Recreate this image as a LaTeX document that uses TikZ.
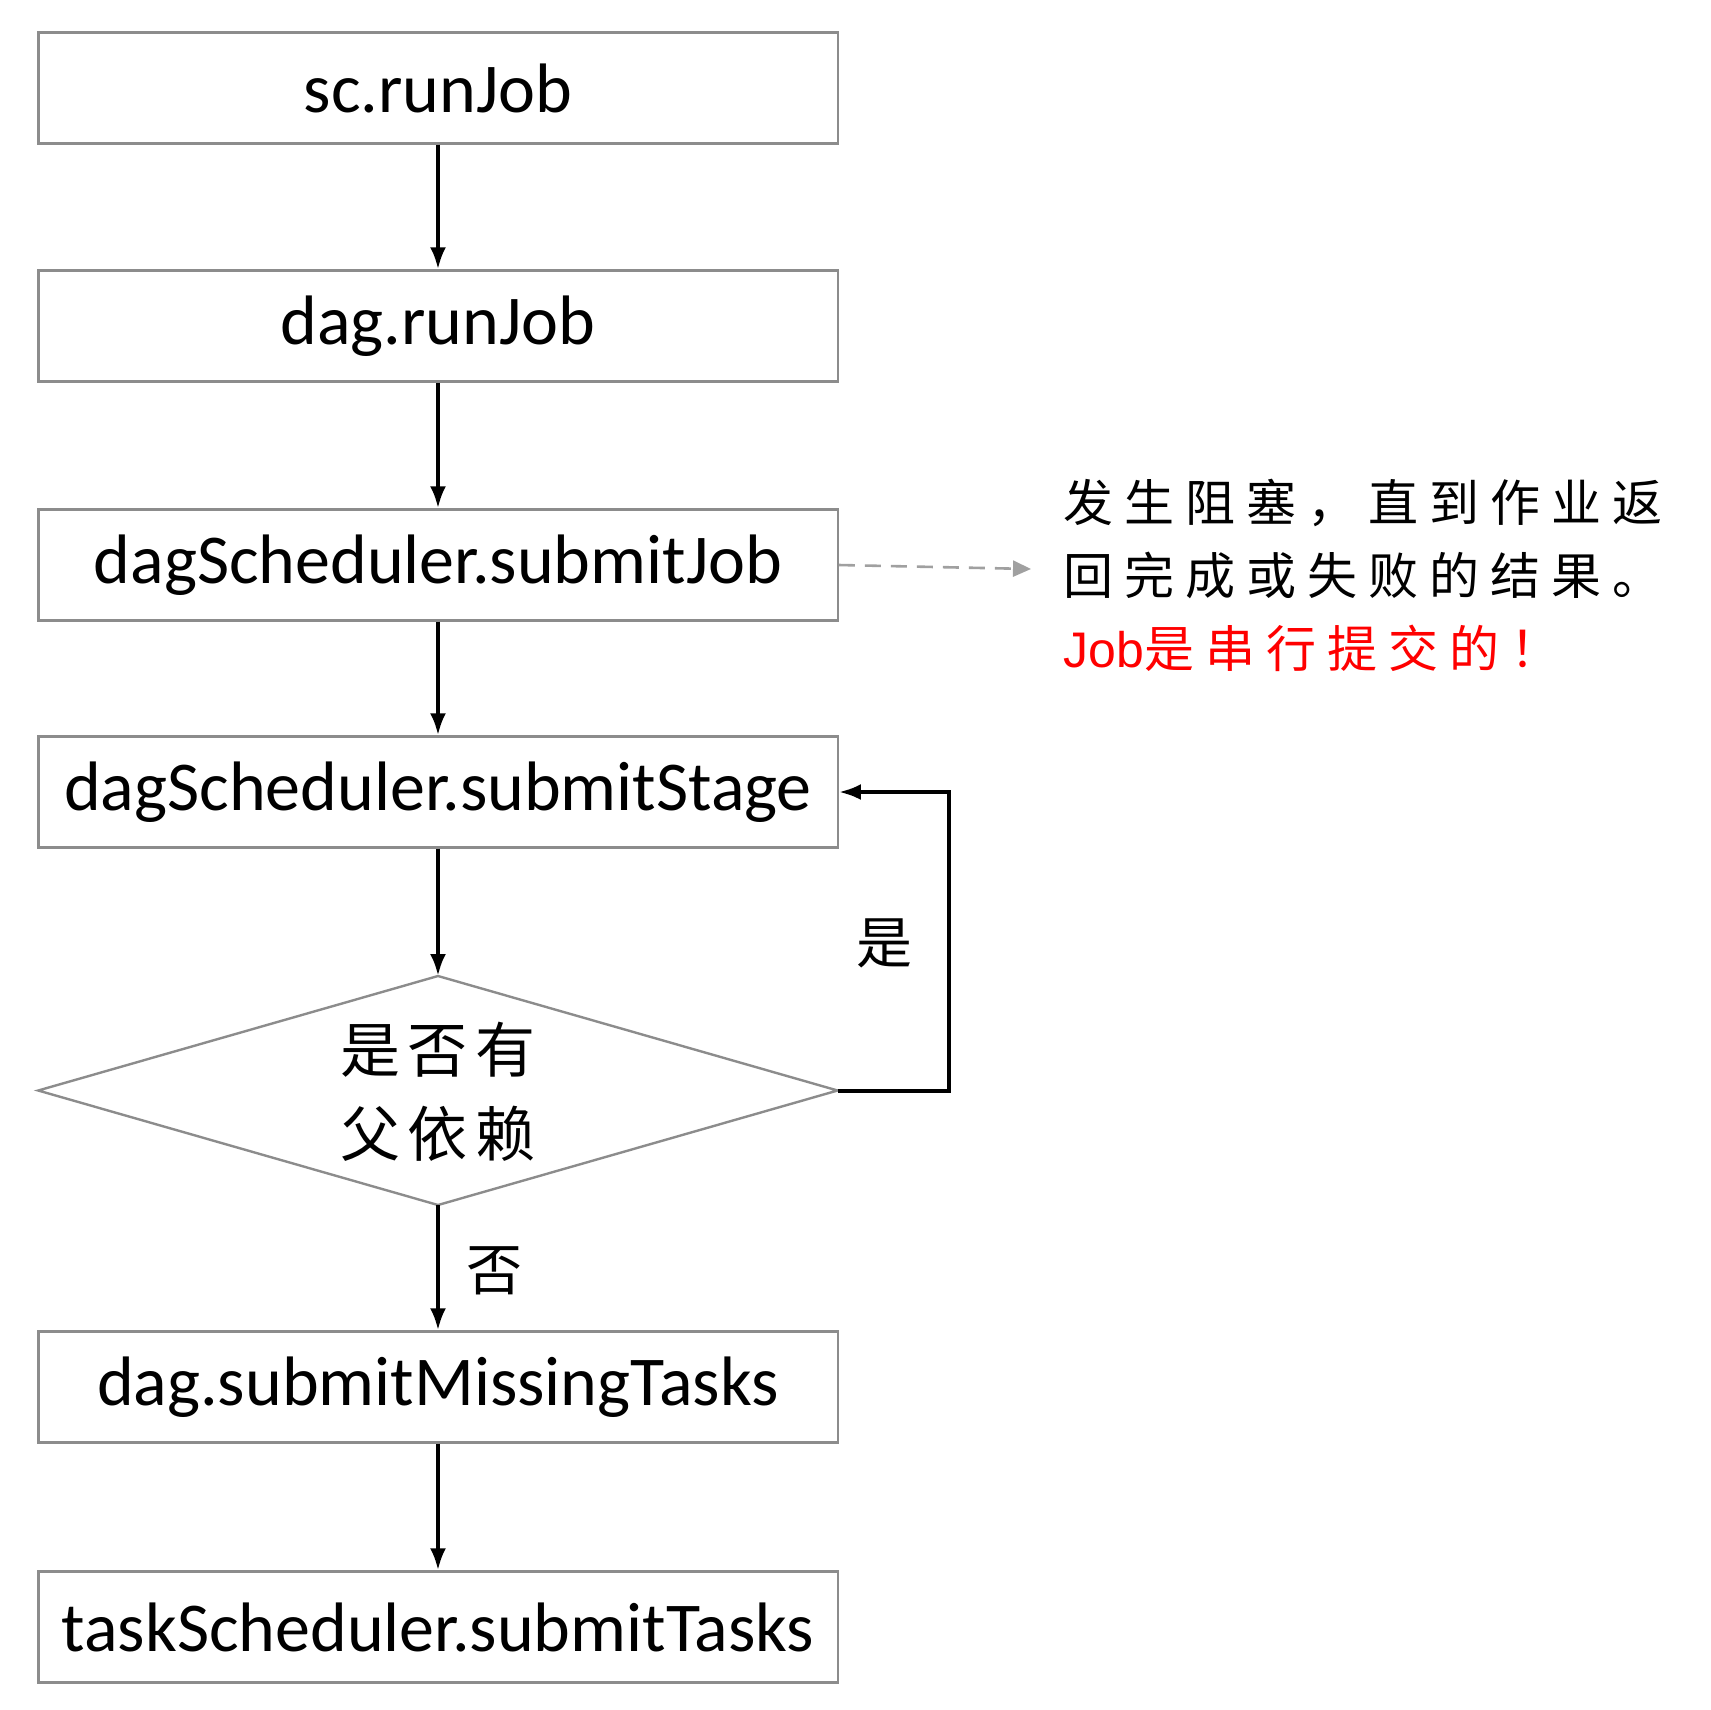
\documentclass[tikz,border=0pt]{standalone}
\usepackage{fontspec}
\setmainfont{Carlito}
\newfontfamily\cjk{Noto Sans CJK SC}
\newfontfamily\cjkls[LetterSpace=22]{Noto Sans CJK SC}
\newfontfamily\cjkdia[LetterSpace=12]{Noto Sans CJK SC}
\newfontfamily\latinnote{Liberation Sans}
\usetikzlibrary{shapes.geometric,arrows.meta}
\definecolor{boxgray}{HTML}{8C8C8C}
\definecolor{dashgray}{HTML}{A0A0A0}
\tikzset{
  box/.style={draw=boxgray, line width=1.2pt, minimum width=399.7pt, minimum height=55.5pt, inner sep=0pt, font=\fontsize{35}{42}\selectfont},
  dialine/.style={draw=boxgray, line width=1.2pt},
  diatext/.style={align=center, inner sep=0pt, font=\cjkdia\fontsize{30}{42}\selectfont},
  flow/.style={-{Latex[length=11pt,width=8pt]}, line width=2pt, black},
  lbl/.style={font=\cjk\fontsize{28}{34}\selectfont, inner sep=0pt},
}
\begin{document}
\begin{tikzpicture}[x=0.5pt,y=-0.5pt]
\useasboundingbox (0,0) rectangle (1710,1710);
\node[box] (b1) at (438,88) {sc.runJob};
\node[box] (b2) at (438,326) {dag.runJob};
\node[box] (b3) at (438,565) {dagScheduler.submitJob};
\node[box] (b4) at (438,792) {dagScheduler.submitStage};
\coordinate (dt) at (438,976);
\coordinate (db) at (438,1205);
\coordinate (dl) at (38.2,1090.5);
\coordinate (dr) at (837.6,1090.5);
\draw[dialine] (dt) -- (dr) -- (db) -- (dl) -- cycle;
\node[diatext] (d) at (438,1092) {是否有\\父依赖};
\node[box] (b5) at (438,1387) {dag.submitMissingTasks};
\node[box] (b6) at (438,1627) {taskScheduler.submitTasks};
\draw[flow] (b1) -- (b2);
\draw[flow] (b2) -- (b3);
\draw[flow] (b3) -- (b4);
\draw[flow] (b4) -- (dt);
\draw[flow] (db) -- (b5);
\draw[flow] (b5) -- (b6);
\coordinate (lp) at (949,1090.5);
\draw[flow] (dr) -- (lp) |- (b4.east);
\node[lbl] (yes) at (884,943) {是};
\node[lbl] (no) at (494,1271) {否};
\node[anchor=west, inner sep=0pt, align=left, font=\cjkls\fontsize{25}{36.5}\selectfont] (note) at (1063,575)
  {发生阻塞，直到作业返\\回完成或失败的结果。\\\textcolor{red}{{\latinnote Job}是串行提交的！}};
\draw[-{Triangle[length=9pt,width=8pt]}, dashgray, line width=1.3pt, dash pattern=on 8pt off 5pt] (b3.east) -- (1031,569);
\end{tikzpicture}
\end{document}
